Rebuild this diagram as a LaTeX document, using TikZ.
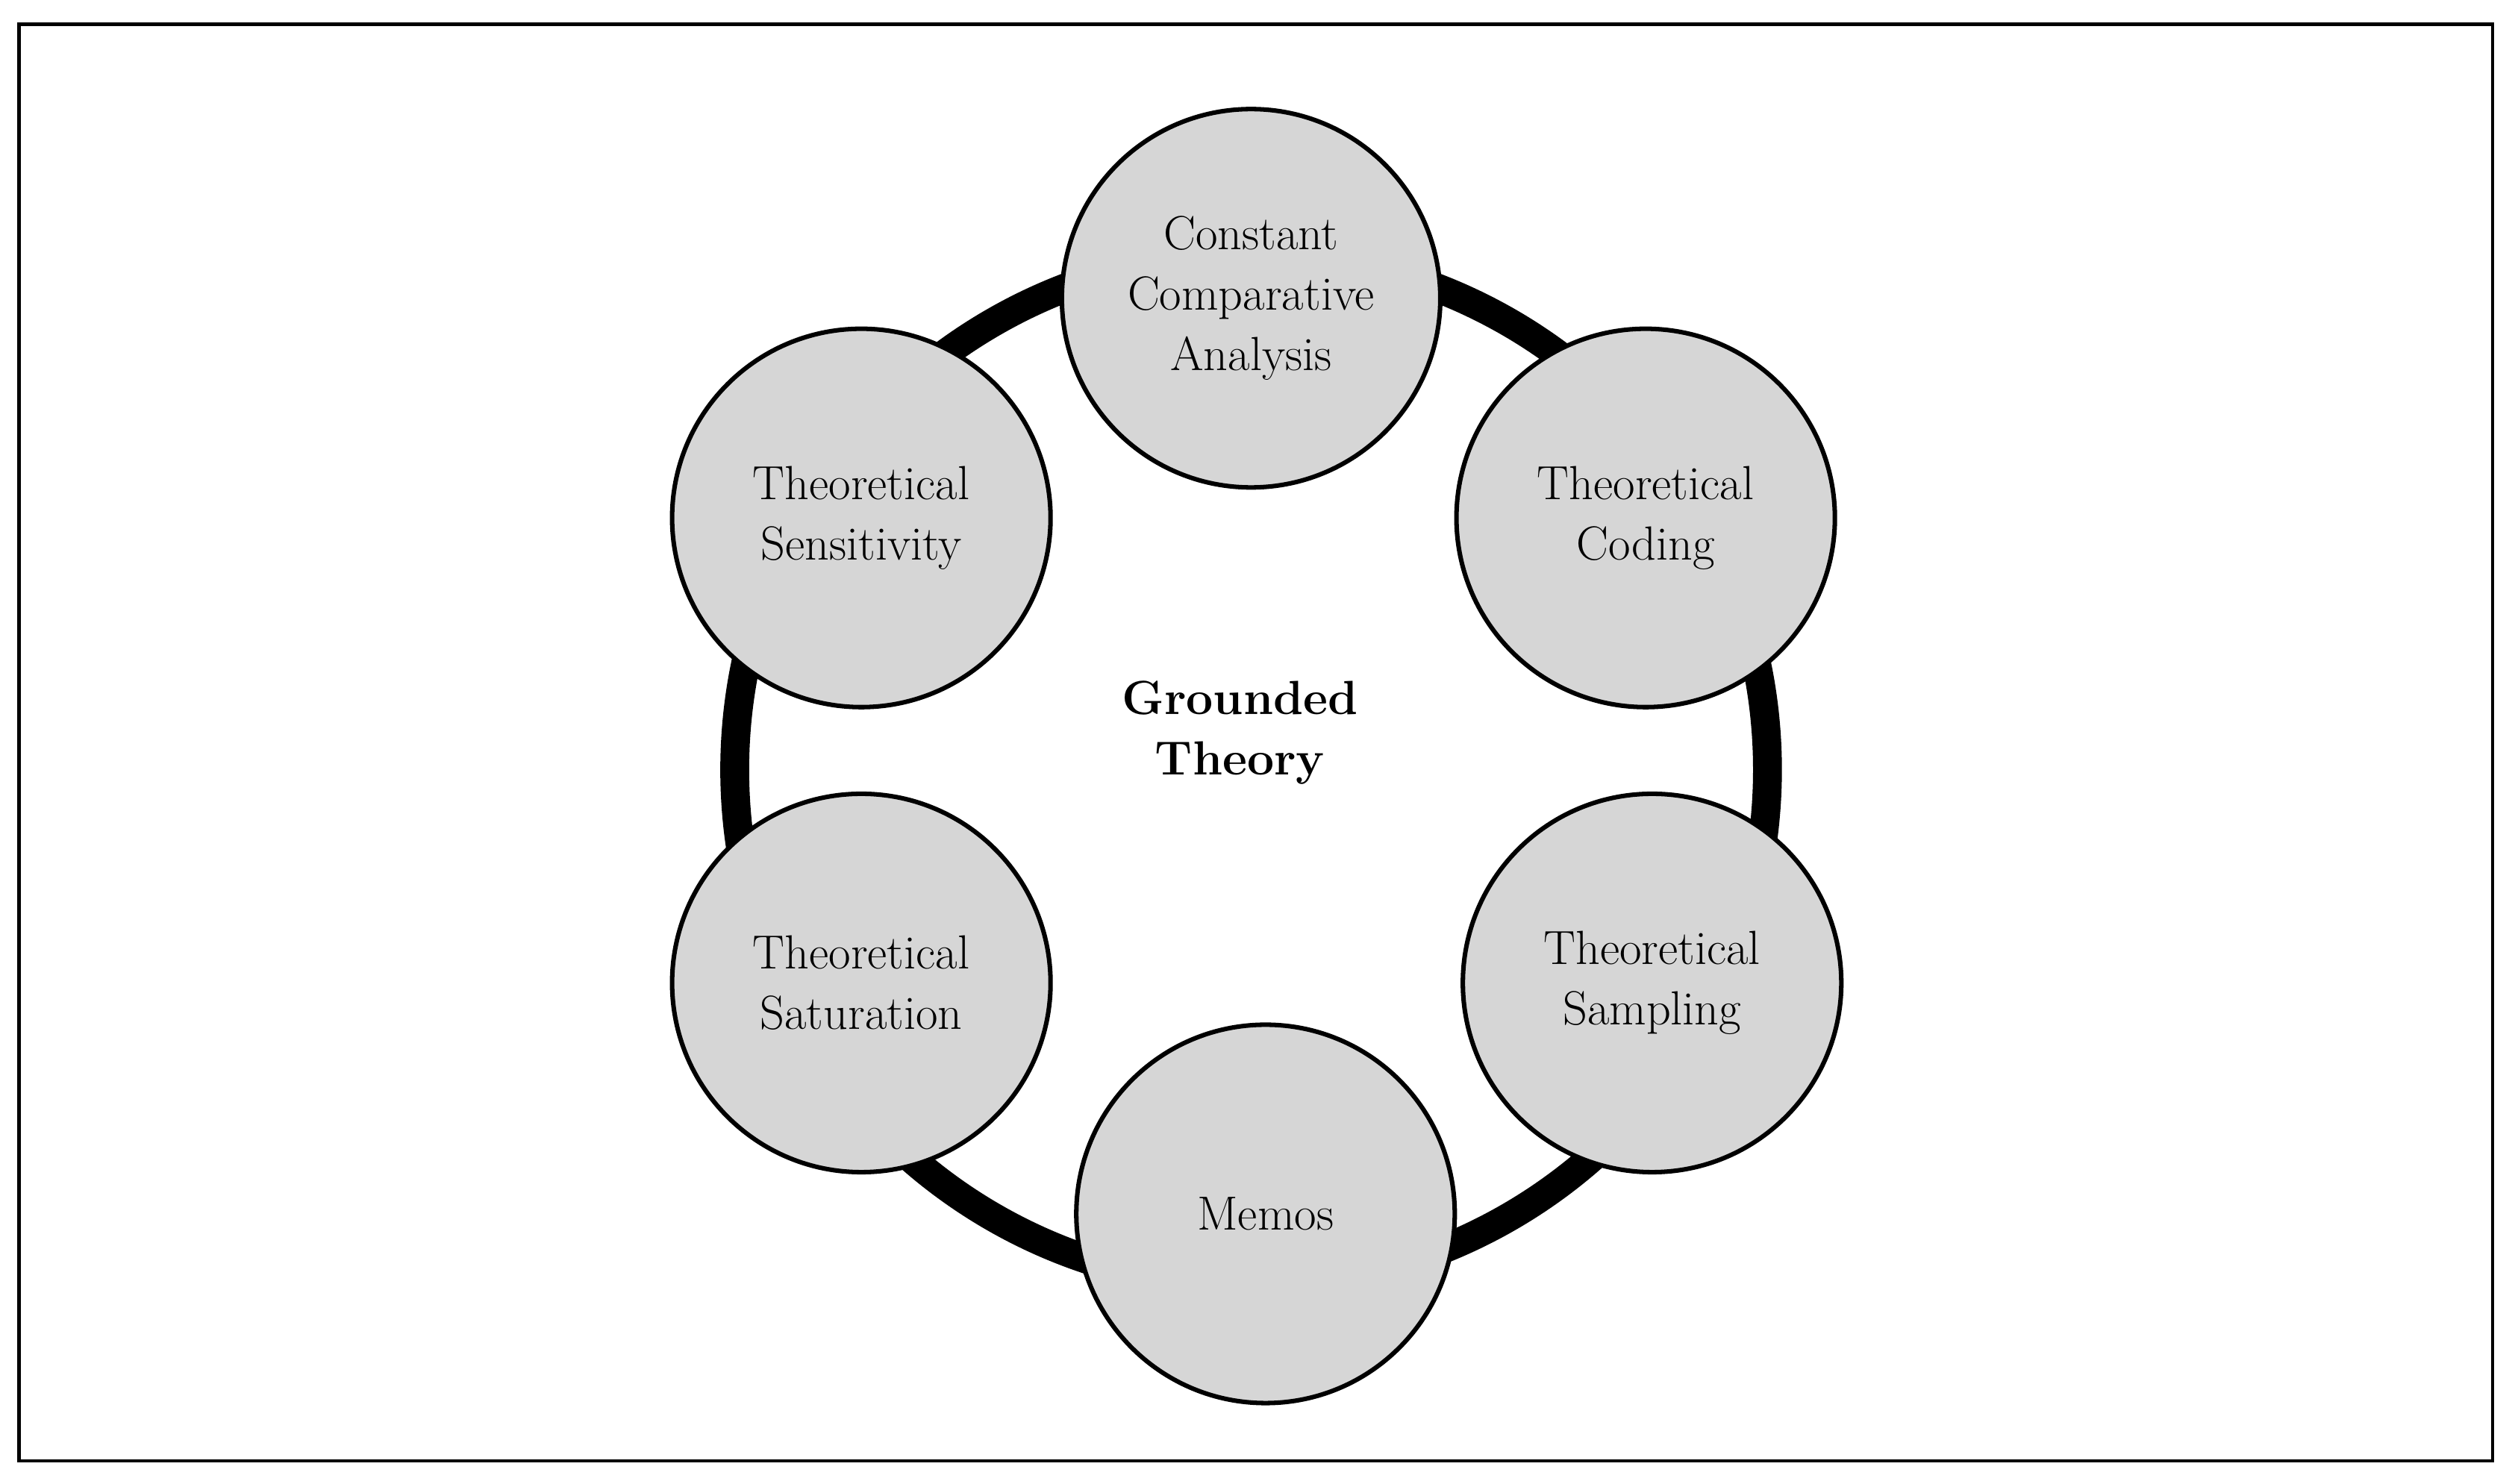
\documentclass[tikz,border=0pt]{standalone}
\begin{document}
\begin{tikzpicture}[x=0.02cm,y=-0.02cm,
  bub/.style={circle,draw=black,line width=1.6pt,fill=black!16,minimum size=4.72cm,inner sep=0pt,align=center,font=\fontsize{17}{21.5}\selectfont}]
\useasboundingbox (0,0) rectangle (1568,925);
\draw[line width=1.3pt] (12,15) rectangle (1554,911);
\node[circle,draw=black,line width=0.36cm,minimum size=12.88cm,inner sep=0pt] (ring) at (780,480) {};
\node[bub] (c1) at (780,186) {Constant\\Comparative\\Analysis};
\node[bub] (c2) at (1026,323) {Theoretical\\Coding};
\node[bub] (c3) at (1030,613) {Theoretical\\Sampling};
\node[bub] (c4) at (789,757) {Memos};
\node[bub] (c5) at (537,613) {Theoretical\\Saturation};
\node[bub] (c6) at (537,323) {Theoretical\\Sensitivity};
\node[align=center,font=\fontsize{17}{21.5}\selectfont\bfseries] (gt) at (773,457) {Grounded\\Theory};
\end{tikzpicture}
\end{document}
